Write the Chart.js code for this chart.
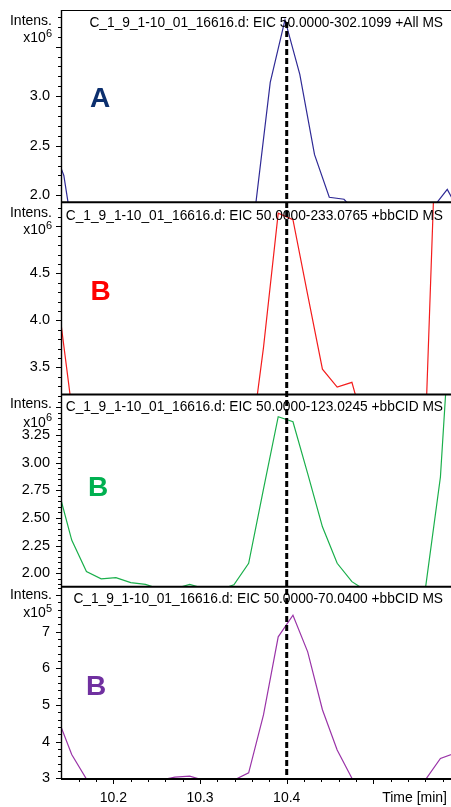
<!DOCTYPE html>
<html>
<head>
<meta charset="utf-8">
<script src="https://cdn.jsdelivr.net/npm/chart.js@4.4.0/dist/chart.umd.min.js"></script>
<style>
html, body { margin: 0; padding: 0; background: #fff; }
canvas { display: block; }
</style>
</head>
<body>
<canvas id="eic" width="451" height="807"></canvas>
<script>
// Retention times [min], AllMS scans and bbCID scans
const allMsTimes = [10.1258, 10.1429, 10.1599, 10.1769, 10.1939, 10.2109, 10.2279, 10.2449, 10.2619, 10.2790,
  10.2960, 10.3130, 10.3300, 10.3470, 10.3640, 10.3810, 10.3980, 10.4151, 10.4321, 10.4491,
  10.4661, 10.4831, 10.5001, 10.5171, 10.5341, 10.5512, 10.5682, 10.5852, 10.6022];
const cidTimes = [10.1350, 10.1520, 10.1690, 10.1860, 10.2030, 10.2201, 10.2371, 10.2541, 10.2711, 10.2881,
  10.3051, 10.3221, 10.3391, 10.3561, 10.3732, 10.3902, 10.4072, 10.4242, 10.4412, 10.4582,
  10.4752, 10.4923, 10.5093, 10.5263, 10.5433, 10.5603, 10.5773, 10.5943];

// Intensities (x10^6, x10^6, x10^6, x10^5)
const eic302 = [2.60, 2.20, 1.25, 1.48, 1.45, 1.52, 1.47, 1.50, 1.46, 1.49, 1.51, 1.47, 1.50, 1.53, 1.89,
  3.14, 3.77, 3.22, 2.41, 1.98, 1.96, 1.80, 1.55, 1.52, 1.50, 1.50, 1.87, 2.06, 1.79];
const eic233 = [4.30, 3.07, 2.85, 2.80, 2.78, 2.75, 2.72, 2.70, 2.68, 2.66, 2.62, 2.58, 2.55, 2.50,
  3.71, 5.14, 5.07, 4.27, 3.48, 3.29, 3.34, 2.78, 2.72, 2.70, 2.76, 2.90, 7.40, 7.60];
const eic123 = [2.80, 2.30, 2.015, 1.95, 1.96, 1.915, 1.90, 1.855, 1.86, 1.90, 1.86, 1.85, 1.895, 2.09,
  2.76, 3.415, 3.37, 2.90, 2.42, 2.09, 1.924, 1.838, 1.84, 1.84, 1.84, 1.88, 2.87, 5.00];
const eic70 = [4.69, 3.65, 2.98, 2.92, 2.88, 2.91, 2.89, 2.95, 3.03, 3.06, 2.94, 2.90, 2.95, 3.15,
  4.73, 6.86, 7.45, 6.45, 4.87, 3.77, 3.00, 2.90, 2.91, 2.89, 2.90, 2.97, 3.54, 3.69];

// Labelled ticks
const ticks302 = [2.0, 2.5, 3.0];
const ticks233 = [3.5, 4.0, 4.5];
const ticks123 = [2.00, 2.25, 2.50, 2.75, 3.00, 3.25];
const ticks70 = [3, 4, 5, 6, 7];
const timeTicks = [10.2, 10.3, 10.4];

const titles = [
  'C_1_9_1-10_01_16616.d: EIC 50.0000-302.1099 +All MS',
  'C_1_9_1-10_01_16616.d: EIC 50.0000-233.0765 +bbCID MS',
  'C_1_9_1-10_01_16616.d: EIC 50.0000-123.0245 +bbCID MS',
  'C_1_9_1-10_01_16616.d: EIC 50.0000-70.0400 +bbCID MS'
];
const letters = ['A', 'B', 'B', 'B'];
const exponents = ['6', '6', '6', '5'];
const markerTime = 10.4;

const FONT = "'Liberation Sans', Arial, sans-serif";
const AXIS_X = 62;

// Panel setup (top to bottom)
const panels = [
  { id: 'yA', times: allMsTimes, values: eic302, labels: ticks302, digits: 1, min: 1.930, max: 3.870,
    minor: 0.1, major: 0.5, line: '#2f2a96', letterColor: '#0c2f6e',
    pos: { title: 17.3, intens: 15, x10: 32, exp: 27, lx: 90, ly: 96.7 } },
  { id: 'yB', times: cidTimes, values: eic233, labels: ticks233, digits: 1, min: 3.211, max: 5.256,
    minor: 0.1, major: 0.5, line: '#f41c1c', letterColor: '#ff0000',
    pos: { title: 17.6, intens: 14.5, x10: 32, exp: 26.5, lx: 90.5, ly: 97.7 } },
  { id: 'yG', times: cidTimes, values: eic123, labels: ticks123, digits: 2, min: 1.878, max: 3.616,
    minor: 0.05, major: 0.25, line: '#1aaf4b', letterColor: '#00b050',
    pos: { title: 16.2, intens: 13.8, x10: 32, exp: 26.5, lx: 88, ly: 101.5 } },
  { id: 'yP', times: cidTimes, values: eic70, labels: ticks70, digits: 0, min: 2.981, max: 8.226,
    minor: 0.2, major: 1, line: '#9a34a8', letterColor: '#7030a0',
    pos: { title: 16, intens: 12.6, x10: 30, exp: 25, lx: 86, ly: 108.2 } }
];

function noPadding(s) {
  s.paddingTop = 0;
  s.paddingBottom = 0;
  s.paddingLeft = 0;
  s.paddingRight = 0;
}

function yScale(p, weight) {
  return {
    type: 'linear',
    position: 'left',
    stack: 'eic',
    stackWeight: 1,
    weight: weight,
    min: p.min,
    max: p.max,
    grid: { display: false, drawTicks: false },
    border: { display: false },
    afterFit: s => { s.width = AXIS_X; noPadding(s); },
    afterBuildTicks: s => { s.ticks = p.labels.map(v => ({ value: v })); },
    ticks: {
      autoSkip: false,
      padding: 12,
      color: '#000',
      font: { family: FONT, size: 14.5 },
      callback: v => Number(v).toFixed(p.digits)
    }
  };
}

const scales = {
  x: {
    type: 'linear',
    min: 10.1408,
    max: 10.5895,
    grid: { display: false, drawTicks: false },
    border: { display: false },
    afterFit: s => { s.height = 28; noPadding(s); },
    afterBuildTicks: s => { s.ticks = timeTicks.map(v => ({ value: v })); },
    ticks: {
      autoSkip: false,
      maxRotation: 0,
      padding: 11,
      color: '#000',
      font: { family: FONT, size: 14 },
      callback: v => Number(v).toFixed(1)
    }
  }
};
panels.forEach((p, i) => { scales[p.id] = yScale(p, 4 - i); });

// frame, ticks, titles and the dashed marker
const decorPlugin = {
  id: 'decor',
  afterDatasetsDraw(chart) {
    const c = chart.ctx;
    const xs = chart.scales.x;
    const area = chart.chartArea;
    c.save();
    c.strokeStyle = '#000';
    c.fillStyle = '#000';

    // top border and y axis line
    c.lineWidth = 1;
    c.beginPath();
    c.moveTo(area.left, area.top + 0.5);
    c.lineTo(area.right, area.top + 0.5);
    c.stroke();
    c.lineWidth = 1.4;
    c.beginPath();
    c.moveTo(area.left - 0.5, area.top);
    c.lineTo(area.left - 0.5, area.bottom);
    c.stroke();

    panels.forEach((p, i) => {
      const s = chart.scales[p.id];
      // y ticks
      c.lineWidth = 1;
      const k0 = Math.ceil(p.min / p.minor - 1e-6);
      const k1 = Math.floor(p.max / p.minor + 1e-6);
      for (let k = k0; k <= k1; k++) {
        const v = k * p.minor;
        const r = v / p.major;
        const len = Math.abs(r - Math.round(r)) < 1e-6 ? 5 : 3;
        const y = Math.round(s.getPixelForValue(v)) + 0.5;
        c.beginPath();
        c.moveTo(area.left - 1 - len, y);
        c.lineTo(area.left - 1, y);
        c.stroke();
      }
      // panel bottom line
      c.lineWidth = 2;
      c.beginPath();
      c.moveTo(area.left - 1, s.bottom);
      c.lineTo(area.right, s.bottom);
      c.stroke();

      // texts
      c.fillStyle = '#000';
      c.textBaseline = 'alphabetic';
      c.font = '13.75px ' + FONT;
      c.textAlign = 'right';
      c.fillText(titles[i], 443, s.top + p.pos.title);
      c.font = '14px ' + FONT;
      c.fillText('Intens.', 52, s.top + p.pos.intens);
      c.font = '11px ' + FONT;
      const ew = c.measureText(exponents[i]).width;
      c.fillText(exponents[i], 52, s.top + p.pos.exp);
      c.font = '14px ' + FONT;
      c.fillText('x10', 52 - ew, s.top + p.pos.x10);

      c.fillStyle = p.letterColor;
      c.font = 'bold 28px ' + FONT;
      c.textAlign = 'left';
      c.fillText(letters[i], p.pos.lx, s.top + p.pos.ly);
    });

    // x ticks
    c.strokeStyle = '#000';
    c.lineWidth = 1;
    const j0 = Math.ceil(xs.min / 0.02 - 1e-6);
    const j1 = Math.floor(xs.max / 0.02 + 1e-6);
    for (let j = j0; j <= j1; j++) {
      const v = j * 0.02;
      const r = v / 0.1;
      const len = Math.abs(r - Math.round(r)) < 1e-6 ? 5 : 3;
      const x = Math.round(xs.getPixelForValue(v)) + 0.5;
      c.beginPath();
      c.moveTo(x, area.bottom);
      c.lineTo(x, area.bottom + len);
      c.stroke();
    }
    c.fillStyle = '#000';
    c.font = '14px ' + FONT;
    c.textAlign = 'right';
    c.textBaseline = 'alphabetic';
    c.fillText('Time [min]', 447, 801.5);

    // dashed marker line
    const mx = xs.getPixelForValue(markerTime);
    c.lineWidth = 3;
    c.setLineDash([6, 3]);
    c.beginPath();
    c.moveTo(mx, 22);
    c.lineTo(mx, area.bottom);
    c.stroke();
    c.restore();
  }
};

const ctx = document.getElementById('eic').getContext('2d');
new Chart(ctx, {
  type: 'line',
  data: {
    datasets: panels.map(p => ({
      data: p.times.map((t, i) => ({ x: t, y: p.values[i] })),
      yAxisID: p.id,
      xAxisID: 'x',
      borderColor: p.line,
      borderWidth: 1.2,
      pointRadius: 0,
      tension: 0,
      fill: false
    }))
  },
  options: {
    responsive: false,
    animation: false,
    devicePixelRatio: 1,
    layout: { padding: { top: 10, left: 0, right: 0, bottom: 0 } },
    plugins: { legend: { display: false }, tooltip: { enabled: false } },
    scales: scales
  },
  plugins: [decorPlugin]
});
</script>
</body>
</html>
